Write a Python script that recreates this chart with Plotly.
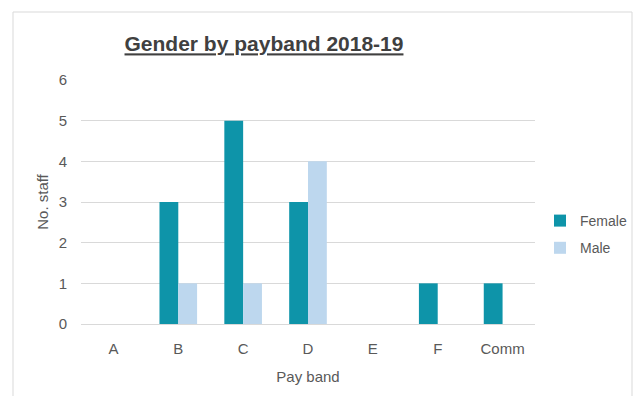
import plotly.graph_objects as go

# Staff counts by pay band, split by gender
bands = ["A", "B", "C", "D", "E", "F", "Comm"]
female = [0, 3, 5, 3, 0, 1, 1]
male = [0, 1, 1, 4, 0, 0, 0]
y_ticks = [0, 1, 2, 3, 4, 5, 6]

W, H = 638, 396
L, R, T, B = 81, 535, 80, 324
pw, ph = R - L, B - T

fig = go.Figure()
fig.add_trace(go.Bar(name="Female", x=bands, y=female, marker_color="#0e94a9",
                     marker_line_width=0, legendgroup="f"))
fig.add_trace(go.Bar(name="Male", x=bands, y=male, marker_color="#bdd7ee",
                     marker_line_width=0, legendgroup="m"))

text_col = "#595959"
font = "Liberation Sans, Arial, sans-serif"

fig.update_layout(
    width=W, height=H,
    margin=dict(l=L, r=W - R, t=T, b=H - B, autoexpand=False),
    paper_bgcolor="white", plot_bgcolor="white",
    barmode="group", bargap=0.42, bargroupgap=0,
    font=dict(family=font, color=text_col, size=15),
    title=dict(
        text="<b><u>Gender by payband 2018-19</u></b>",
        font=dict(family="Liberation Sans Narrow, Arial Narrow, Liberation Sans, sans-serif",
                  size=21, color="#404040"),
        x=264 / W, xanchor="center", y=1 - 44 / H, yanchor="middle",
    ),
    showlegend=True,
    legend=dict(
        x=(540 - L) / pw, xanchor="left", y=(B - 205) / ph, yanchor="top",
        font=dict(size=14, color=text_col), itemwidth=30,
        tracegroupgap=6, bgcolor="rgba(0,0,0,0)",
    ),
    xaxis=dict(
        title=dict(text="Pay band", font=dict(size=15, color=text_col), standoff=15),
        ticks="outside", ticklen=11, tickcolor="rgba(0,0,0,0)",
        showline=False, showgrid=False, tickfont=dict(size=15, color=text_col),
    ),
    yaxis=dict(
        title=dict(text="No. staff", font=dict(size=15, color=text_col), standoff=6),
        range=[0, 6], tickvals=y_ticks, ticks="outside", ticklen=10,
        tickcolor="rgba(0,0,0,0)", showgrid=True, gridcolor="#d9d9d9",
        gridwidth=1, zeroline=True, zerolinecolor="#d9d9d9", zerolinewidth=1,
        showline=False, tickfont=dict(size=15, color=text_col),
    ),
)

# Chart frame
fig.add_shape(
    type="rect", xref="paper", yref="paper",
    x0=(13 - L) / pw, x1=(632 - L) / pw,
    y0=(B - 420) / ph, y1=(B - 12) / ph,
    line=dict(color="#d9d9d9", width=1), fillcolor="rgba(0,0,0,0)", layer="below",
)

fig.write_html("out.html")
